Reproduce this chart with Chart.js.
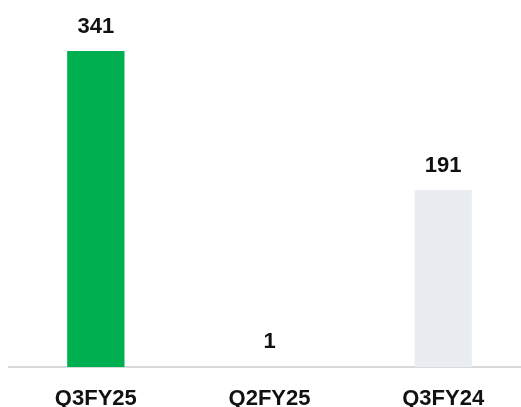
<!DOCTYPE html>
<html>
<head>
<meta charset="utf-8">
<script src="https://cdn.jsdelivr.net/npm/chart.js@4/dist/chart.umd.min.js"></script>
<style>
  html, body { margin: 0; padding: 0; background: #ffffff; }
  #wrap { width: 521px; height: 407px; overflow: hidden; position: relative; }
  #wrap canvas { position: absolute; left: 0; top: 0; }
</style>
</head>
<body>
<div id="wrap"><canvas id="barChart" width="530" height="407"></canvas></div>
<script>
  // chart data
  const quarters = ['Q3FY25', 'Q2FY25', 'Q3FY24'];
  const values = [341, 1, 191];
  const barColors = ['#00b050', '#d9d9d9', '#e9ecf0'];

  // draws the value above each bar
  const valueLabels = {
    id: 'valueLabels',
    afterDatasetsDraw(chart) {
      const ctx = chart.ctx;
      const meta = chart.getDatasetMeta(0);
      ctx.save();
      ctx.font = 'bold 22px "Liberation Sans", Arial, sans-serif';
      ctx.fillStyle = '#111111';
      ctx.textAlign = 'center';
      ctx.textBaseline = 'alphabetic';
      meta.data.forEach(function(bar, i) {
        ctx.fillText(String(values[i]), bar.x, bar.y - 18);
      });
      ctx.restore();
    }
  };

  const ctx = document.getElementById('barChart').getContext('2d');
  new Chart(ctx, {
    type: 'bar',
    data: {
      labels: quarters,
      datasets: [{
        data: values,
        backgroundColor: barColors,
        borderWidth: 0,
        barPercentage: 0.33,
        categoryPercentage: 1
      }]
    },
    options: {
      responsive: false,
      animation: false,
      layout: { padding: { top: 51, left: 9, right: 0, bottom: -24 } },
      plugins: {
        legend: { display: false },
        tooltip: { enabled: false }
      },
      scales: {
        x: {
          z: 1, // axis line drawn over the bar bottoms
          grid: { display: false, drawTicks: false },
          border: { display: true, color: '#d9d9d9', width: 2 },
          ticks: {
            color: '#111111',
            padding: 21,
            font: { family: '"Liberation Sans", Arial, sans-serif', size: 22, weight: 'bold', lineHeight: 1 }
          }
        },
        y: {
          display: false,
          min: 0,
          max: 341
        }
      }
    },
    plugins: [valueLabels]
  });
</script>
</body>
</html>
